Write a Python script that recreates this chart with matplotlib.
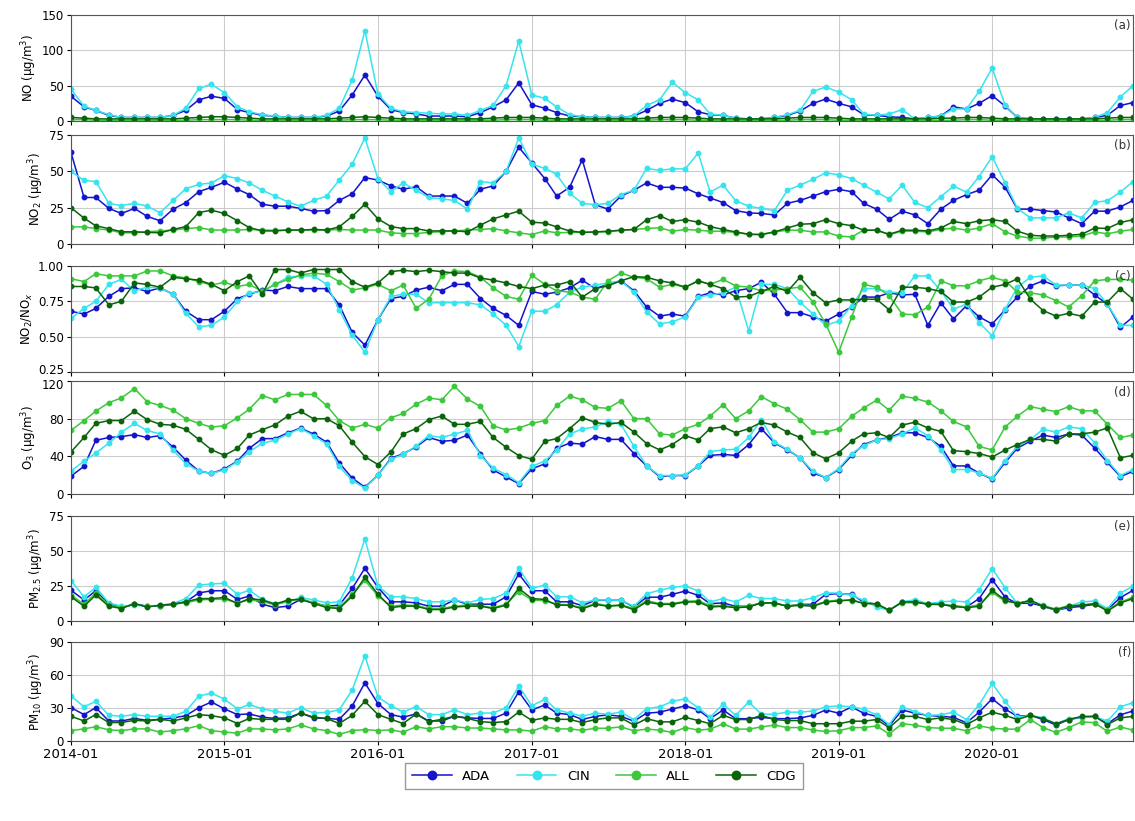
import matplotlib
matplotlib.use("Agg")
import matplotlib.pyplot as plt
import matplotlib.dates as mdates
import matplotlib.transforms as mtransforms
import pandas as pd

# monthly means, 2014-01 .. 2020-12
months = pd.date_range("2014-01-01", periods=84, freq="MS")
stations = ["ADA", "CIN", "ALL", "CDG"]
colors = {"ADA": "#1414cc", "CIN": "#36e4ee", "ALL": "#3cc83c", "CDG": "#0a640a"}

no_ada = [35, 20, 15, 8, 5, 5, 5, 5, 8, 15, 30, 35, 32, 16, 12, 8, 7, 5, 5, 5,
          7, 14, 37, 65, 35, 16, 12, 10, 7, 7, 7, 6, 12, 20, 30, 54, 23, 18, 12, 7,
          6, 5, 5, 5, 7, 15, 25, 31, 26, 13, 9, 8, 4, 3, 3, 5, 8, 14, 25, 31,
          25, 20, 9, 8, 6, 5, 3, 5, 7, 20, 17, 25, 36, 21, 5, 3, 3, 3, 3, 3,
          5, 8, 22, 26]
no_cin = [45, 21, 15, 9, 5, 5, 5, 5, 8, 18, 46, 52, 40, 20, 13, 9, 7, 5, 5, 5,
          8, 18, 58, 128, 38, 18, 13, 12, 11, 10, 10, 8, 15, 22, 50, 113, 37, 32, 20, 9,
          6, 5, 5, 5, 7, 22, 30, 55, 40, 30, 10, 8, 4, 3, 3, 5, 9, 15, 42, 48,
          41, 30, 10, 8, 10, 16, 3, 5, 7, 17, 17, 42, 75, 22, 5, 3, 3, 3, 3, 3,
          5, 12, 34, 50]
no_all = [2, 2, 1, 1, 1, 1, 1, 1, 1, 1, 2, 2, 2, 2, 1, 1, 1, 1, 1, 1,
          1, 1, 2, 2, 2, 1, 1, 1, 1, 1, 1, 1, 1, 1, 2, 2, 2, 1, 1, 1,
          1, 1, 1, 1, 1, 1, 2, 2, 2, 1, 1, 1, 1, 1, 1, 1, 1, 2, 2, 2,
          1, 1, 1, 1, 1, 1, 1, 1, 1, 1, 2, 2, 1, 1, 1, 1, 1, 1, 1, 1,
          1, 1, 2, 2]
no_cdg = [5, 4, 3, 3, 3, 3, 3, 3, 3, 4, 5, 6, 6, 5, 4, 3, 3, 3, 3, 3,
          3, 4, 5, 6, 5, 4, 3, 3, 3, 3, 3, 3, 3, 4, 5, 5, 5, 4, 3, 3,
          3, 3, 3, 3, 3, 4, 5, 5, 5, 4, 3, 3, 3, 3, 3, 3, 4, 5, 5, 5,
          4, 3, 3, 3, 3, 3, 3, 3, 4, 4, 5, 5, 4, 3, 3, 3, 3, 3, 3, 3,
          3, 4, 5, 5]

no2_ada = [63, 32, 32, 24.5, 21, 24.5, 19, 16, 24, 28.5, 36, 39, 42.5, 37.7, 34, 27.4, 26, 26, 24.5, 22.6,
           23, 30, 34.6, 45.7, 44, 40, 37.7, 39.4, 33, 33, 33, 28, 37.7, 40, 50, 66.6, 55.8, 45, 33, 39,
           58, 27, 24, 33, 37, 42, 39, 39, 38.5, 34.5, 31.7, 28.5, 23, 21.4, 21, 20, 28, 30, 33, 36,
           37.6, 36, 28, 24, 17, 22.6, 20, 14, 24, 30, 34, 37, 47.6, 39, 24, 24, 23, 22, 18, 14,
           22.6, 22.6, 25.5, 30]
no2_cin = [50, 43.7, 43, 28, 26.4, 28, 26, 21.6, 30, 38, 41, 42, 47, 45, 42, 37, 33, 29, 26, 30,
           33, 44, 55, 73, 45, 36, 42, 37, 32, 31, 30, 24, 43, 42, 50, 73, 55, 52, 48, 35,
           28, 27, 28, 34, 37, 52, 50.7, 51.7, 51.7, 62.6, 35.7, 40.5, 29.8, 26, 24.5, 23, 37, 40.5, 44.5, 49,
           47.6, 45, 40.5, 35.7, 31, 40.5, 28.6, 25, 32.6, 39.8, 35.7, 46.4, 60, 42, 24.5, 18, 18, 18, 21.4, 18,
           28.6, 29.8, 35.7, 43]
no2_all = [11.8, 11.8, 10.6, 9.6, 7.7, 7.7, 8.4, 9, 9.6, 10.6, 11.3, 9.6, 9.6, 9.6, 10, 9.6, 9.4, 9.6, 9.6, 9.6,
           9.6, 10, 9.6, 9.6, 9.6, 7.7, 7.2, 7.2, 8, 8.5, 9, 9.6, 10, 10.6, 9, 7.7, 6.5, 9, 7.7, 8,
           8, 8.3, 8.3, 9.5, 10, 10.7, 11.2, 8.8, 10, 9.5, 8.8, 8.8, 7.9, 6.7, 6.7, 8.3, 9.5, 9.5, 8.3, 8.3,
           5.5, 4.8, 9.5, 9.5, 6.4, 8.8, 8.8, 8.3, 10, 11, 9.5, 11, 14, 8.3, 5.5, 4, 4, 4.8, 4.8, 5.5,
           8.3, 7, 8.8, 10]
no2_cdg = [25, 17.8, 12.5, 10.6, 8.4, 8.4, 8, 7.7, 10, 12, 21.6, 23.3, 21, 16, 11.3, 9, 9, 9.6, 9.6, 10,
           9.6, 11.8, 19, 27.4, 17.3, 12, 10.6, 10.6, 9, 9, 9, 8.4, 13, 17.3, 20, 22.6, 15, 14.4, 11.8, 9,
           8, 8.3, 8.8, 9.5, 10, 16.7, 19.5, 15.5, 16.7, 15, 12, 10, 8.3, 6.7, 6.4, 8.3, 11, 13.6, 14, 16.7,
           14, 12.6, 9.5, 9.5, 6.7, 9.5, 9.5, 9, 11, 15.5, 14, 16, 16.7, 15.5, 8.8, 6, 5.5, 5.5, 6, 6.7,
           11, 10.7, 14.8, 16.7]

ratio_ada = [.68, .66, .70, .785, .84, .845, .82, .845, .80, .68, .62, .62, .68, .77, .80, .83, .825, .855, .84, .84,
             .84, .725, .53, .44, .62, .77, .785, .83, .85, .825, .87, .87, .77, .70, .65, .58, .82, .80, .815, .845,
             .90, .84, .87, .895, .825, .71, .645, .66, .645, .785, .81, .795, .825, .84, .885, .80, .67, .67, .64, .61,
             .66, .71, .78, .78, .81, .795, .80, .58, .74, .625, .72, .64, .59, .69, .78, .86, .895, .86, .865, .865,
             .795, .73, .565, .64]
ratio_cin = [.63, .70, .75, .87, .905, .825, .85, .845, .80, .665, .57, .58, .64, .75, .81, .82, .87, .92, .93, .93,
             .87, .69, .51, .39, .62, .785, .80, .80, .74, .74, .74, .74, .725, .66, .58, .43, .68, .68, .725, .815,
             .85, .865, .88, .895, .815, .675, .59, .605, .64, .78, .795, .81, .85, .54, .87, .87, .84, .745, .66, .58,
             .61, .72, .84, .84, .815, .81, .93, .93, .825, .695, .73, .60, .505, .695, .85, .92, .93, .865, .865, .865,
             .84, .73, .58, .58]
ratio_all = [.91, .89, .945, .93, .93, .93, .965, .965, .93, .915, .89, .865, .885, .855, .87, .82, .87, .905, .935, .95,
             .94, .89, .83, .845, .87, .825, .865, .70, .765, .93, .965, .96, .92, .845, .785, .765, .935, .87, .825, .815,
             .78, .765, .895, .95, .92, .91, .85, .87, .85, .895, .87, .905, .86, .85, .825, .83, .84, .85, .745, .59,
             .39, .64, .87, .85, .79, .66, .655, .71, .895, .86, .86, .895, .92, .895, .815, .81, .795, .755, .71, .79,
             .895, .905, .905, .90]
ratio_cdg = [.855, .855, .845, .725, .75, .88, .87, .85, .92, .91, .90, .87, .825, .89, .93, .80, .975, .975, .95, .975,
             .975, .975, .89, .85, .88, .96, .97, .96, .97, .96, .95, .95, .915, .90, .88, .855, .84, .865, .865, .89,
             .78, .84, .86, .895, .925, .92, .895, .88, .85, .895, .87, .84, .78, .785, .82, .855, .82, .92, .81, .74,
             .76, .76, .765, .765, .69, .85, .85, .84, .82, .745, .745, .78, .85, .87, .91, .765, .685, .645, .665, .645,
             .745, .745, .84, .765]

o3_ada = [19, 29.4, 57, 60, 61, 63, 60, 62, 49.6, 36, 24.4, 21.8, 26.7, 35, 48.5, 58.8, 58.8, 65, 70, 63.7,
          55, 33, 16.8, 7.3, 20, 38, 42.7, 50, 60, 56, 57, 62.6, 42.7, 25.6, 18, 11, 26.7, 32, 48.5, 54,
          53, 61, 58, 58, 43, 29.8, 18.5, 19.6, 19.6, 29.8, 41, 42, 41, 52.5, 69.4, 54.3, 46.8, 38.5, 22.3, 17.4,
          26, 41, 52.5, 57.4, 60, 65, 65, 60, 50.6, 29.8, 29.8, 22.3, 15.8, 33.6, 48.7, 56.2, 62.6, 60, 63.8, 62.6,
          48.7, 33.6, 18.5, 24]
o3_cin = [24.4, 35, 43.5, 54, 65.6, 75, 67.5, 63.7, 46.6, 32, 24.4, 21.8, 25.6, 34.4, 44.7, 54, 57, 63.7, 69.5, 62,
          53.4, 29.4, 14, 6.5, 20, 37, 42, 51, 62, 60, 63.7, 67.5, 40.8, 27.5, 20.6, 12, 29.4, 35, 46.6, 63.7,
          69, 71.3, 77, 74, 50.6, 29.8, 19.6, 19.6, 20.4, 29.8, 45, 46.8, 47.5, 60, 78.9, 55, 47.5, 38.5, 24, 17.4,
          27, 43, 51.3, 57.4, 58.9, 63.8, 70.2, 61.9, 46.8, 26, 26, 22.3, 16.6, 35.5, 50.6, 58, 68.7, 65.7, 71.3, 69.4,
          54.3, 35.5, 19.6, 26]
o3_all = [67.5, 78, 88, 97, 102, 112, 98, 94, 89, 80, 75, 71, 72.5, 81, 90, 104.6, 100, 105.7, 105.7, 105.7,
          94, 78, 70, 74, 70, 81, 85.5, 95.4, 102, 100, 114.5, 100.8, 93, 72.5, 68, 70, 75, 78, 94, 104,
          100, 92, 91, 99, 80, 80, 63.8, 62.6, 69.4, 74, 82.6, 95, 80, 88.3, 103.4, 95.8, 90, 78.9, 65.7, 65.7,
          69.4, 82.6, 91.3, 99.6, 89, 104, 101.5, 97.7, 88.3, 77, 71.3, 50.6, 46.8, 71.3, 82.6, 92.8, 90, 87.5, 92.8, 88.3,
          88.3, 74, 60, 62.6]
o3_cdg = [44.7, 60, 75, 78, 78, 88, 79, 74, 73, 68.7, 58, 47, 41, 48.5, 62.6, 68.3, 73.3, 82.8, 87.8, 79.8,
          80, 72.5, 55, 39.7, 31.3, 44.7, 63.7, 69.5, 79, 82.8, 74, 74, 77, 60, 49.6, 40.8, 37, 56, 58.8, 69.5,
          81, 76, 74, 76, 65.7, 53.6, 46.8, 52.5, 61.9, 57.4, 69.4, 71.3, 65, 69.4, 76, 73.2, 65.7, 60, 43.8, 37.4,
          43.8, 56.2, 63.8, 65, 60, 73.2, 76.2, 70.2, 66.4, 46, 45, 43, 39.2, 46.8, 52.5, 58, 58, 56.2, 63.8, 63.8,
          65.7, 70.2, 38.5, 41]

pm25_ada = [22, 15, 21.6, 12, 9.6, 12, 10.6, 10.6, 12, 13.7, 20, 21.6, 21.6, 15.4, 17.8, 12, 9.6, 10.6, 15.4, 13,
            10.6, 11.3, 23.3, 37.7, 24, 13.7, 13.7, 13, 10.6, 10.6, 15, 12, 12, 12, 17.3, 33.6, 21.6, 21.6, 13.7, 13.7,
            11, 14.8, 14.8, 14.8, 10, 17, 17, 19, 21.4, 18.3, 12.4, 12.9, 10.5, 10.5, 12.9, 12.9, 10.5, 11.9, 11.9, 19,
            19.5, 19, 13.6, 11.9, 7.6, 13.6, 14.3, 11.9, 11.9, 10.5, 10, 16, 29.5, 17, 12.4, 12.9, 10.5, 7.6, 9.5, 10.5,
            11.9, 8.1, 16.7, 21.9]
pm25_cin = [28.8, 17.3, 24, 13, 10.6, 11.3, 10.6, 11.3, 12.5, 16, 25.7, 26.4, 27, 19, 22, 15.4, 12.5, 13.7, 16.8, 15,
            13, 13.7, 31, 58.6, 25, 17.3, 17.3, 16, 13.7, 13.7, 15, 13, 15.4, 16, 20, 37.7, 23.3, 25.7, 17.3, 17.3,
            13, 15, 15, 14.8, 10.5, 19.5, 22, 24, 25, 21.4, 13.6, 16, 13.6, 18.3, 16, 16, 14.3, 14.3, 16.7, 20,
            20, 18.3, 14.8, 10, 7.6, 13.6, 15.2, 12.4, 13.6, 14.3, 13.6, 22.4, 37.4, 23.8, 12.4, 14.8, 11.2, 7.6, 10.5, 13.6,
            14.3, 8.8, 20, 24.8]
pm25_all = [18.5, 12, 20, 11.5, 9.5, 12, 10.5, 11, 12, 13, 15, 15.5, 15.5, 13, 15, 14, 11.5, 14, 16, 13,
            10.5, 9.5, 19, 29, 18, 10.5, 11.5, 11, 9, 9, 10.5, 11.5, 11, 9.5, 12, 21, 15, 14.5, 12, 11.5,
            9.5, 12.5, 11, 11.5, 9, 14.5, 12.5, 12.5, 14, 14.5, 11, 11, 10, 10.5, 13, 12.5, 11, 11.5, 11, 14,
            15, 14.5, 13, 12, 8, 13, 13, 12.5, 12, 11, 10, 11.5, 20.5, 14, 13, 14, 11, 8.5, 11, 11.5,
            12.5, 8, 13.5, 17]
pm25_cdg = [17.3, 10.6, 18.5, 10.6, 8.9, 12.5, 10, 11.3, 12, 13.7, 16, 16, 16.8, 12.5, 16, 15, 12, 15, 15.4, 12.5,
            9.6, 8.9, 17.8, 31.2, 19.2, 9.6, 10.6, 10.6, 8.2, 8.2, 10, 10.6, 10.6, 8.9, 11.3, 23.3, 16, 15.4, 11.3, 11.3,
            8.8, 11.9, 10.5, 11.2, 8.1, 13.6, 11.9, 11.9, 13.6, 13.6, 10, 10.5, 9.5, 10, 12.9, 12.9, 10.5, 11.2, 10.5, 13.6,
            14.3, 15.2, 12.4, 12.4, 7.6, 13.6, 13.6, 11.9, 11.9, 10.5, 9.5, 10.5, 21.9, 14.8, 12.4, 14.8, 10.5, 8.1, 10.5, 11.2,
            12.4, 7.1, 12.9, 16]

pm10_ada = [30.3, 24, 30.3, 18.2, 18.2, 20.5, 18.8, 19.7, 21, 23, 30.3, 35.5, 29.2, 24, 24.6, 21.7, 20.5, 21, 25.4, 21,
            20.5, 19.7, 32, 52.9, 34, 24, 21.7, 24.6, 18.2, 18.2, 22.5, 21, 20.5, 20.5, 25.4, 44.8, 28.3, 32.7, 25.4, 24,
            19.6, 22.4, 23.8, 22.4, 18, 25.3, 26.2, 29, 32, 28.2, 20.3, 28.2, 20.3, 20.3, 21.5, 20.3, 20.3, 21, 23.3, 28.2,
            25.3, 31, 25.3, 22.4, 13.7, 28.2, 25.3, 23.3, 22.4, 21.5, 16.6, 26.2, 38.4, 29, 22.4, 23.3, 19.5, 14.5, 19.5, 21.5,
            22.4, 15.7, 23.8, 27.3]
pm10_cin = [40.8, 31.2, 36, 23.4, 22.5, 24, 22.5, 22.5, 22.5, 27, 40.8, 43.6, 38, 29.2, 33.2, 29.2, 27, 25.4, 30.3, 25.4,
            26, 28.3, 46.5, 77.5, 40, 32, 26.3, 31.2, 24, 24, 28.3, 24, 25.4, 25.4, 30.3, 50, 32, 37.9, 28.3, 25.4,
            22.5, 25.3, 24.4, 26.2, 19.5, 29.4, 31, 36, 38.4, 30.2, 21.5, 33.4, 23.3, 35.5, 24.4, 24.4, 26.2, 26.2, 27.3, 31,
            32, 31, 29, 23.8, 15, 31, 26.7, 23.3, 23.8, 26.2, 19.5, 33, 52.3, 36, 21.5, 23.3, 21, 15.7, 20.3, 21.5,
            22.4, 18, 31, 34.9]
pm10_all = [9.5, 11, 13, 10.1, 9.5, 11, 11, 8.1, 9.5, 11, 13.9, 9.5, 8.1, 7.2, 11, 11, 10.1, 11, 14.7, 11,
            9.5, 6, 9.5, 10.4, 9.5, 10.1, 8.1, 13, 11, 13, 13, 11.8, 11.8, 11, 10.1, 10.1, 9, 13, 11, 11,
            9.7, 11.6, 11.6, 12.8, 9.3, 10.8, 9.9, 7.8, 12.2, 9.9, 10.8, 15.7, 10.8, 10.8, 12.8, 14.5, 12.2, 12.2, 9.9, 8.7,
            9.3, 12.2, 12.2, 13.7, 6.4, 15.7, 14.5, 12.2, 11.6, 11.6, 9.3, 13.7, 11.6, 10.8, 10.8, 19.5, 12.2, 7.8, 12.2, 17.4,
            16.6, 8.7, 12.8, 9.9]
pm10_cdg = [22.5, 18.2, 24, 16.8, 16.8, 18.8, 18.2, 19.7, 18.2, 21, 24, 23, 21, 15.9, 20.5, 19.7, 19.7, 19.7, 25.4, 21.7,
            20.5, 15.9, 23.4, 36.1, 24, 19.7, 15.9, 24.6, 17.6, 19.7, 22.5, 20.5, 17.6, 16.8, 17.6, 26.3, 18.8, 21, 19.7, 19.7,
            16.7, 19.5, 21, 21, 14.5, 20.3, 17.4, 17.4, 21.5, 18.6, 15.7, 23.3, 19.5, 19.5, 23.3, 19.5, 18.6, 18.6, 15.7, 15.7,
            15.7, 18, 18, 19.5, 12.2, 22.4, 22.4, 19.5, 21, 19.5, 15, 21, 26.2, 23.3, 19.5, 23.3, 20.3, 15.7, 19.5, 22.4,
            22.4, 15, 21, 22.4]

panels = [
    ("(a)", "NO (μg/m$^3$)", [0, 50, 100, 150], "%d", [no_ada, no_cin, no_all, no_cdg]),
    ("(b)", "NO$_2$ (μg/m$^3$)", [0, 25, 50, 75], "%d", [no2_ada, no2_cin, no2_all, no2_cdg]),
    ("(c)", "NO$_2$/NO$_x$", [0.25, 0.5, 0.75, 1.0], "%.2f", [ratio_ada, ratio_cin, ratio_all, ratio_cdg]),
    ("(d)", "O$_3$ (μg/m$^3$)", [0, 40, 80, 120], "%d", [o3_ada, o3_cin, o3_all, o3_cdg]),
    ("(e)", "PM$_{2.5}$ (μg/m$^3$)", [0, 25, 50, 75], "%d", [pm25_ada, pm25_cin, pm25_all, pm25_cdg]),
    ("(f)", "PM$_{10}$ (μg/m$^3$)", [0, 30, 60, 90], "%d", [pm10_ada, pm10_cin, pm10_all, pm10_cdg]),
]

# pixel rows (top, bottom) of each panel in the 1135x821 figure
rows = [(15, 121), (135, 244), (266, 372), (381, 494), (516, 621), (642, 741)]
W, H = 1135, 821
x0, x1 = 71, 1133

fig = plt.figure(figsize=(W / 100, H / 100), dpi=100)
axes = []
for (tag, ylabel, yticks, fmt, series), (top, bot) in zip(panels, rows):
    ax = fig.add_axes([x0 / W, 1 - bot / H, (x1 - x0) / W, (bot - top) / H])
    for name, vals in zip(stations, series):
        ax.plot(months, vals, color=colors[name], marker="o", ms=3.2, lw=1.1, label=name)
    ax.set_ylim(yticks[0], yticks[-1])
    ax.set_yticks(yticks)
    ax.yaxis.set_major_formatter(matplotlib.ticker.FormatStrFormatter(fmt))
    ax.set_xlim(months[0], months[-1])
    ax.xaxis.set_major_locator(mdates.YearLocator())
    ax.xaxis.set_major_formatter(mdates.DateFormatter("%Y-%m"))
    ax.grid(True, color="#cccccc", lw=0.8)
    ax.set_ylabel(ylabel, fontsize=8.5, labelpad=2)
    ax.tick_params(labelsize=8.5, length=3, pad=2)
    ax.text(0.998, 0.96, tag, transform=ax.transAxes, ha="right", va="top", fontsize=8.5, color="#333333")
    for s in ax.spines.values():
        s.set_color("#555555")
    axes.append(ax)

for ax in axes[:-1]:
    ax.tick_params(labelbottom=False)
axes[-1].tick_params(axis="x", labelsize=9.5)

# panels (c) and (d) sit close together: nudge the two touching tick labels apart
up = mtransforms.ScaledTranslation(0, 3 / 100, fig.dpi_scale_trans)
down = mtransforms.ScaledTranslation(0, -3 / 100, fig.dpi_scale_trans)
lab_c = axes[2].get_yticklabels()[0]
lab_c.set_transform(lab_c.get_transform() + up)
lab_d = axes[3].get_yticklabels()[-1]
lab_d.set_transform(lab_d.get_transform() + down)

handles, labels = axes[0].get_legend_handles_labels()
fig.legend(handles, labels, loc="center", ncol=4, bbox_to_anchor=(604 / W, 1 - 776 / H),
           fontsize=9.5, markerscale=1.9, handlelength=3.0, columnspacing=2.0, framealpha=1,
           fancybox=False, edgecolor="#999999", borderpad=0.5)

fig.savefig("out.png", dpi=100)
